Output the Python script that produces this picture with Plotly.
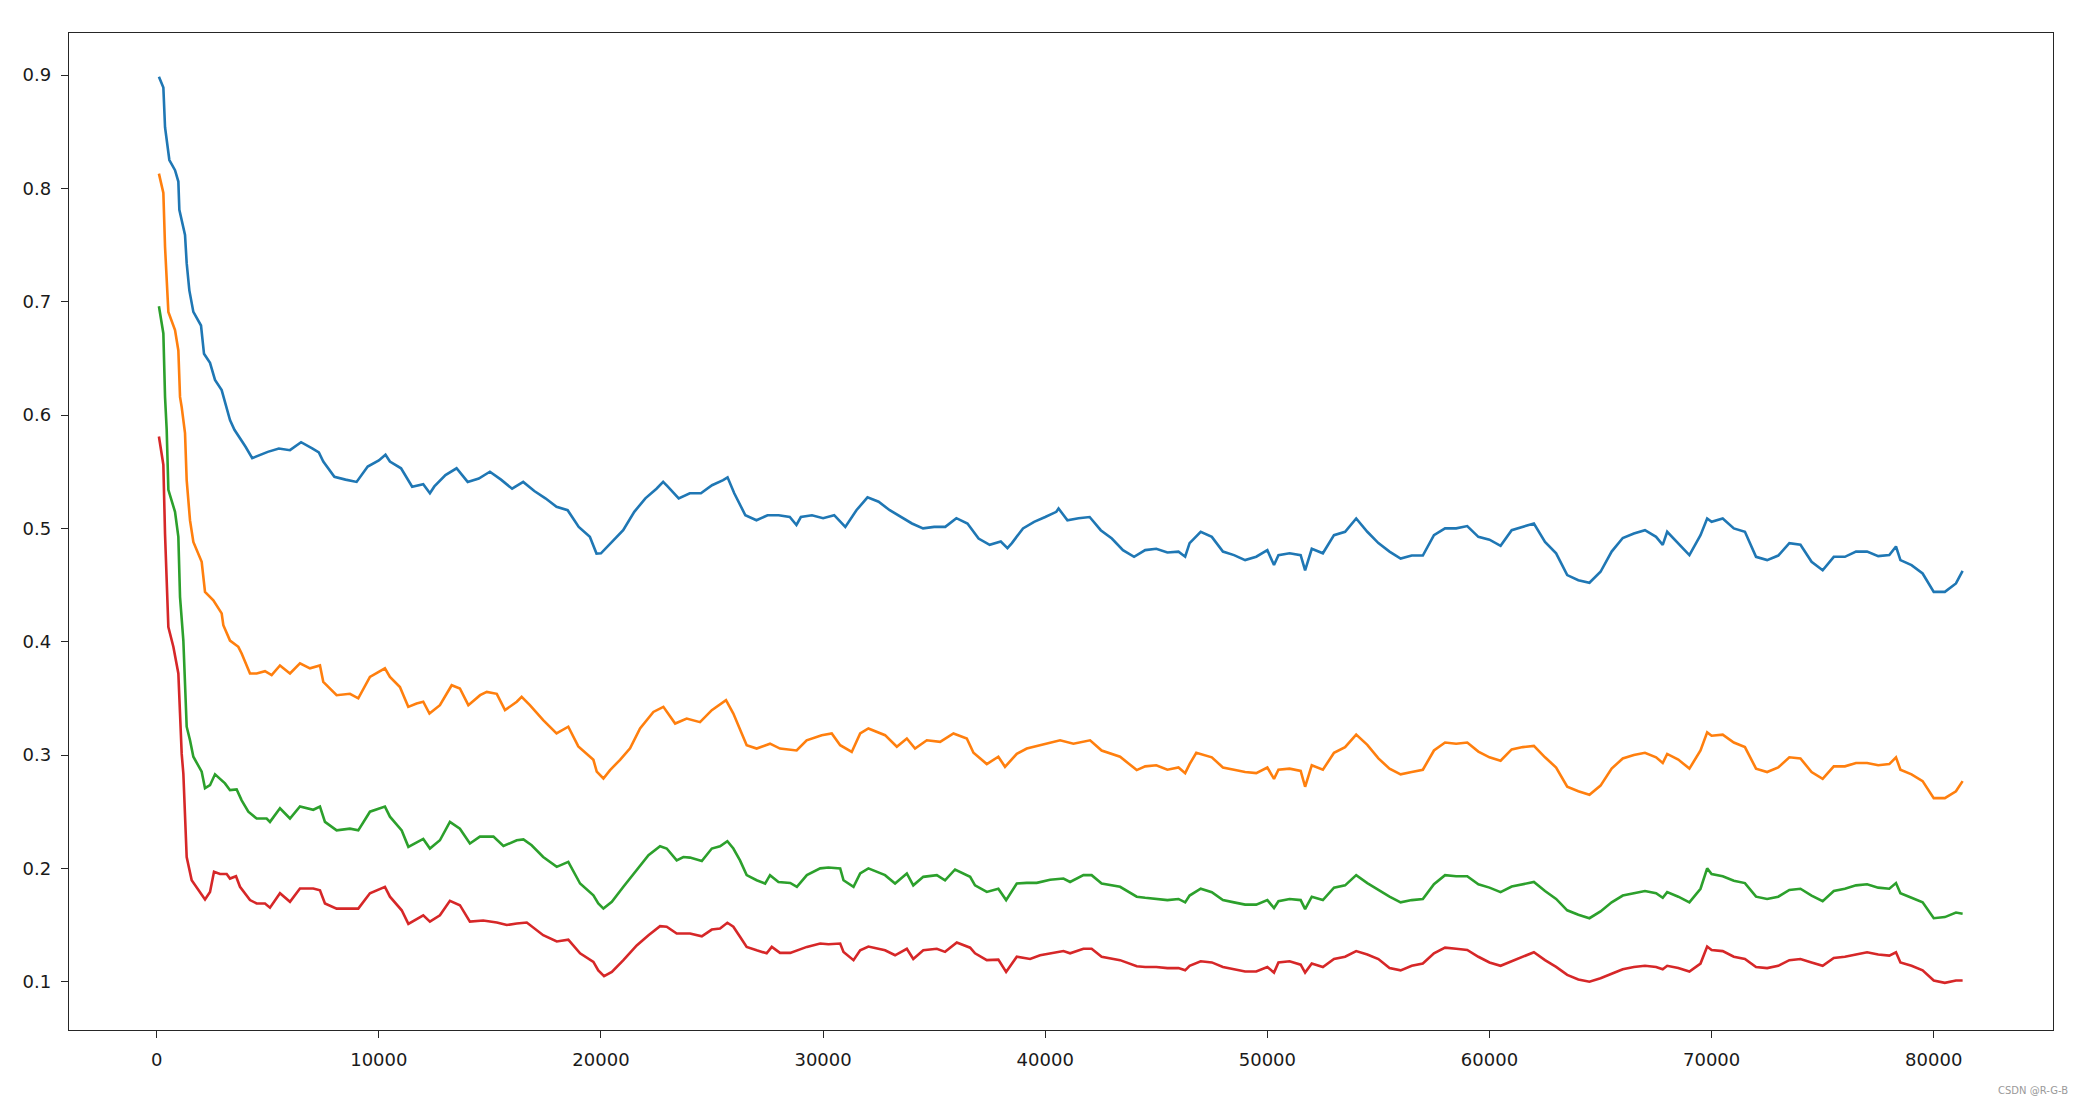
import plotly.graph_objects as go

blue_x = [100, 300, 375, 570, 825, 975, 1020, 1275, 1350, 1470, 1650, 1995, 2130, 2400, 2625, 2925, 3300, 3500, 4000, 4300,
          5000, 5500, 6000, 6500, 7000, 7300, 7500, 8000, 8500, 9000, 9500, 10000, 10300, 10500, 11000, 11500, 12000, 12300,
          12500, 13000, 13500, 14000, 14500, 15000, 15500, 16000, 16500, 17000, 17500, 18000, 18500, 19000, 19500, 19800,
          20000, 20300, 20500, 21000, 21500, 22000, 22500, 22800, 23000, 23500, 24000, 24500, 25000, 25500, 25700, 26000,
          26500, 27000, 27500, 28000, 28500, 28800, 29000, 29500, 30000, 30500, 31000, 31500, 32000, 32500, 33000, 33500,
          34000, 34500, 35000, 35500, 36000, 36500, 37000, 37500, 38000, 38300, 38500, 39000, 39500, 40000, 40500, 40600,
          41000, 41500, 42000, 42500, 43000, 43500, 44000, 44500, 45000, 45500, 46000, 46300, 46500, 47000, 47500, 48000,
          48500, 49000, 49500, 50000, 50300, 50500, 51000, 51500, 51700, 52000, 52500, 53000, 53500, 54000, 54500, 55000,
          55500, 56000, 56500, 57000, 57500, 58000, 58500, 59000, 59500, 60000, 60500, 61000, 61500, 62000, 62500, 63000,
          63500, 64000, 64500, 65000, 65500, 66000, 66500, 67000, 67500, 67800, 68000, 68500, 69000, 69500, 69800, 70000,
          70500, 71000, 71500, 72000, 72500, 73000, 73500, 74000, 74500, 75000, 75500, 76000, 76500, 77000, 77500, 78000,
          78300, 78500, 79000, 79500, 80000, 80500, 81000, 81300]
blue_y = [0.8985, 0.889, 0.854, 0.825, 0.816, 0.806, 0.781, 0.759, 0.734, 0.710, 0.691, 0.679, 0.654, 0.646, 0.631, 0.622,
          0.5955, 0.587, 0.572, 0.562,
          0.5675, 0.5705, 0.569, 0.576, 0.5705, 0.567, 0.559, 0.5455, 0.543, 0.541, 0.5545, 0.560, 0.565, 0.559, 0.553,
          0.5367, 0.539, 0.531,
          0.537, 0.547, 0.553, 0.541, 0.544, 0.550, 0.543, 0.535, 0.541, 0.533, 0.5265, 0.519, 0.516, 0.5013, 0.4925, 0.4778,
          0.478, 0.484, 0.488, 0.4984, 0.5146, 0.5265, 0.535, 0.541, 0.537, 0.5265, 0.531, 0.531, 0.5381, 0.5425, 0.545, 0.531,
          0.5116, 0.5072, 0.5116, 0.5116, 0.510, 0.503, 0.510, 0.5116, 0.509, 0.5116, 0.5013, 0.516, 0.5274, 0.5235, 0.516, 0.510,
          0.5043, 0.500, 0.5013, 0.5013, 0.509, 0.5043, 0.491, 0.4855, 0.4884, 0.4826, 0.487, 0.500, 0.5058, 0.510, 0.5146, 0.5175,
          0.5072, 0.509, 0.510, 0.4984, 0.491, 0.4808, 0.4749, 0.4808, 0.482, 0.4787, 0.4795, 0.475, 0.487, 0.497, 0.4925, 0.4795,
          0.4764, 0.472, 0.475, 0.4808, 0.4676, 0.4764, 0.478, 0.4764, 0.463, 0.482, 0.478, 0.494, 0.497, 0.5087, 0.497, 0.487,
          0.4795, 0.4734, 0.476, 0.476, 0.494, 0.500, 0.500, 0.502, 0.4925, 0.490, 0.4846, 0.4984, 0.5013, 0.5043, 0.488, 0.478,
          0.4588, 0.4543, 0.452, 0.4617, 0.4795, 0.4915, 0.4955, 0.4984, 0.4925, 0.4855, 0.497, 0.487, 0.4764, 0.494, 0.5087, 0.5058,
          0.5087, 0.500, 0.497, 0.4749, 0.472, 0.476, 0.487, 0.4855, 0.4705, 0.463, 0.4749, 0.4749, 0.4795, 0.4795, 0.4755, 0.4764,
          0.484, 0.472, 0.4676, 0.4602, 0.444, 0.444, 0.4514, 0.4625]

orange_x = [100, 300, 375, 525, 825, 975, 1050, 1125, 1275, 1350, 1500, 1650, 2025, 2175, 2550, 2925, 3000, 3300, 3675, 3825,
            4200, 4500, 4875, 5175, 5550, 6000, 6450, 6900, 7350, 7500, 8100, 8700, 9075, 9600, 10275, 10500, 10950, 11325,
            11700, 12000, 12280, 12750, 13280, 13650, 14030, 14560, 14860, 15310, 15680, 16210, 16430, 16800, 17400, 18000,
            18530, 18980, 19660, 19810, 20110, 20410, 20860, 21310, 21760, 22360, 22810, 23340, 23860, 24460, 24990, 25630,
            25960, 26260, 26560, 27010, 27610, 28060, 28810, 29260, 29940, 30390, 30770, 31290, 31670, 32040, 32790, 33320,
            33770, 34140, 34670, 35270, 35870, 36470, 36770, 37370, 37890, 38190, 38720, 39170, 39770, 40670, 41270, 42020,
            42540, 43370, 44120, 44500, 45000, 45500, 46000, 46300, 46500, 46800, 47500, 48000, 48500, 49000, 49500, 50000,
            50300, 50500, 51000, 51500, 51700, 52000, 52500, 53000, 53500, 54000, 54500, 55000, 55500, 56000, 56500, 57000,
            57500, 58000, 58500, 59000, 59500, 60000, 60500, 61000, 61500, 62000, 62500, 63000, 63500, 64000, 64500, 65000,
            65500, 66000, 66500, 67000, 67500, 67800, 68000, 68500, 69000, 69500, 69800, 70000, 70500, 71000, 71500, 72000,
            72500, 73000, 73500, 74000, 74500, 75000, 75500, 76000, 76500, 77000, 77500, 78000, 78300, 78500, 79000, 79500,
            80000, 80500, 81000, 81300]
orange_y = [0.813, 0.796, 0.7485, 0.691, 0.675, 0.657, 0.616, 0.607, 0.584, 0.5425, 0.507, 0.488, 0.4705, 0.444, 0.4366, 0.425,
            0.4146, 0.401, 0.3955, 0.3896,
            0.372, 0.372, 0.374, 0.3705, 0.379, 0.372, 0.381, 0.3765, 0.379, 0.3645, 0.3528, 0.354, 0.350, 0.369, 0.3765, 0.369,
            0.360, 0.3425,
            0.3455, 0.347, 0.3366, 0.344, 0.3616, 0.3587, 0.344, 0.3528, 0.3557, 0.354, 0.3396, 0.347, 0.3514, 0.344, 0.3307,
            0.319,
            0.325, 0.3076, 0.2958, 0.2853, 0.2793, 0.2867, 0.2958, 0.306, 0.3234, 0.338, 0.3425, 0.3278, 0.3322, 0.329, 0.3396,
            0.3484,
            0.3366, 0.3219, 0.3087, 0.3057, 0.310, 0.3057, 0.304, 0.313, 0.3175, 0.319, 0.3087, 0.3027, 0.319, 0.3234, 0.3175,
            0.3073,
            0.3146, 0.3057, 0.313, 0.3116, 0.319, 0.3146, 0.302, 0.292, 0.2985, 0.2896, 0.301, 0.3057, 0.3087, 0.313, 0.310,
            0.313,
            0.304, 0.2985, 0.2867, 0.290, 0.291, 0.287, 0.289, 0.284, 0.292, 0.302, 0.298, 0.289, 0.287, 0.285, 0.284, 0.289,
            0.279, 0.287, 0.288, 0.286, 0.272, 0.291, 0.287, 0.302, 0.307, 0.318, 0.309, 0.297, 0.288, 0.283, 0.285, 0.287,
            0.304, 0.311, 0.310, 0.311, 0.303, 0.298, 0.295, 0.305, 0.307, 0.308, 0.298, 0.289, 0.272, 0.268, 0.265, 0.273,
            0.288, 0.297, 0.300, 0.302, 0.298, 0.293, 0.301, 0.296, 0.288, 0.304, 0.320, 0.317, 0.318, 0.311, 0.307, 0.288,
            0.285, 0.289, 0.298, 0.297, 0.285, 0.279, 0.290, 0.290, 0.293, 0.293, 0.291, 0.292, 0.298, 0.287, 0.283, 0.277,
            0.262, 0.262, 0.268, 0.277]

green_x = [100, 300, 375, 450, 525, 825, 975, 1050, 1200, 1350, 1500, 1650, 2025, 2175, 2400, 2625, 3075, 3300, 3600, 3825,
           4125, 4500, 4950, 5100, 5550, 6000, 6450, 7050, 7350, 7575, 8100, 8700, 9075, 9600, 10275, 10500, 11030, 11330,
           12000, 12300, 12750, 13200, 13650, 14100, 14550, 15160, 15610, 16210, 16510, 16880, 17400, 18010, 18530, 19060,
           19660, 19880, 20110, 20490, 21010, 21610, 22140, 22660, 22960, 23410, 23710, 24010, 24540, 24990, 25360, 25690,
           25960, 26260, 26560, 27010, 27390, 27610, 27990, 28520, 28820, 29270, 29870, 30240, 30770, 30920, 31370, 31670,
           32040, 32790, 33240, 33770, 34060, 34510, 35120, 35490, 35940, 36620, 36840, 37370, 37890, 38240, 38720, 39170,
           39620, 40220, 40820, 41120, 41720, 42090, 42540, 43370, 44120, 44500, 45000, 45500, 46000, 46300, 46500, 47000,
           47500, 48000, 48500, 49000, 49500, 50000, 50300, 50500, 51000, 51500, 51700, 52000, 52500, 53000, 53500, 54000,
           54500, 55000, 55500, 56000, 56500, 57000, 57500, 58000, 58500, 59000, 59500, 60000, 60500, 61000, 61500, 62000,
           62500, 63000, 63500, 64000, 64500, 65000, 65500, 66000, 66500, 67000, 67500, 67800, 68000, 68500, 69000, 69500,
           69800, 70000, 70500, 71000, 71500, 72000, 72500, 73000, 73500, 74000, 74500, 75000, 75500, 76000, 76500, 77000,
           77500, 78000, 78300, 78500, 79000, 79500, 80000, 80500, 81000, 81300]
green_y = [0.696, 0.672, 0.616, 0.587, 0.534, 0.5146, 0.4925, 0.4396, 0.401, 0.325, 0.313, 0.2985, 0.2853, 0.2707, 0.2734,
           0.283, 0.275, 0.269, 0.2696, 0.260,
           0.250, 0.244, 0.244, 0.241, 0.253, 0.244, 0.2546, 0.2517, 0.2546, 0.241, 0.2335, 0.235, 0.2335, 0.250, 0.2545,
           0.2456, 0.2335, 0.219,
           0.226, 0.2175, 0.2248, 0.241, 0.235, 0.2219, 0.228, 0.228, 0.2197, 0.2248, 0.2255, 0.2204, 0.210, 0.2013, 0.2057,
           0.1866,
           0.1763, 0.169, 0.1645, 0.1705, 0.1837, 0.198, 0.2116, 0.2195, 0.2175, 0.207, 0.210, 0.2095, 0.2065, 0.2175, 0.2195,
           0.224,
           0.2175, 0.207, 0.194, 0.1895, 0.1866, 0.194, 0.188, 0.1871, 0.1837, 0.194, 0.200, 0.2007, 0.200, 0.1895, 0.1837,
           0.1955,
           0.200, 0.194, 0.1866, 0.1955, 0.185, 0.1925, 0.194, 0.1895, 0.199, 0.1925, 0.185, 0.1792, 0.182, 0.172, 0.1866,
           0.1872,
           0.1872, 0.190, 0.191, 0.188, 0.194, 0.194, 0.1866, 0.1837, 0.175, 0.174, 0.173, 0.172, 0.173, 0.170, 0.176, 0.182,
           0.179, 0.172, 0.170, 0.168, 0.168, 0.172, 0.165, 0.171, 0.173, 0.172, 0.164, 0.175, 0.172, 0.183, 0.185, 0.194,
           0.187, 0.181, 0.175, 0.170, 0.172, 0.173, 0.186, 0.194, 0.193, 0.193, 0.186, 0.183, 0.179, 0.184, 0.186, 0.188,
           0.180, 0.173, 0.163, 0.159, 0.156, 0.162, 0.170, 0.176, 0.178, 0.180, 0.178, 0.174, 0.179, 0.175, 0.170, 0.182,
           0.200, 0.195, 0.193, 0.189, 0.187, 0.175, 0.173, 0.175, 0.181, 0.182, 0.176, 0.171, 0.180, 0.182, 0.185, 0.186,
           0.183, 0.182, 0.187, 0.178, 0.174, 0.170, 0.156, 0.157, 0.161, 0.160]

red_x = [100, 300, 375, 525, 750, 975, 1050, 1125, 1200, 1350, 1575, 1875, 2175, 2400, 2580, 2850, 3150, 3300, 3570, 3750,
         4200, 4500, 4875, 5100, 5550, 6000, 6450, 7050, 7350, 7575, 8100, 8700, 9075, 9600, 10275, 10500, 11030, 11330,
         12000, 12300, 12750, 13200, 13650, 14100, 14700, 15310, 15760, 16210, 16660, 17400, 18010, 18530, 19060, 19660,
         19880, 20140, 20490, 21010, 21610, 22140, 22660, 22960, 23410, 24010, 24540, 24990, 25360, 25690, 25960, 26260,
         26560, 27010, 27460, 27690, 28060, 28520, 28820, 29270, 29870, 30240, 30770, 30920, 31370, 31670, 32040, 32790,
         33240, 33770, 34060, 34510, 35120, 35490, 36020, 36620, 36840, 37370, 37890, 38240, 38720, 39320, 39770, 40370,
         40820, 41120, 41720, 42090, 42540, 43370, 44120, 44500, 45000, 45500, 46000, 46300, 46500, 47000, 47500, 48000,
         48500, 49000, 49500, 50000, 50300, 50500, 51000, 51500, 51700, 52000, 52500, 53000, 53500, 54000, 54500, 55000,
         55500, 56000, 56500, 57000, 57500, 58000, 58500, 59000, 59500, 60000, 60500, 61000, 61500, 62000, 62500, 63000,
         63500, 64000, 64500, 65000, 65500, 66000, 66500, 67000, 67500, 67800, 68000, 68500, 69000, 69500, 69800, 70000,
         70500, 71000, 71500, 72000, 72500, 73000, 73500, 74000, 74500, 75000, 75500, 76000, 76500, 77000, 77500, 78000,
         78300, 78500, 79000, 79500, 80000, 80500, 81000, 81300]
red_y = [0.581, 0.556, 0.495, 0.413, 0.3955, 0.372, 0.3366, 0.301, 0.2837, 0.210, 0.1895, 0.1807, 0.1725, 0.1792, 0.197,
         0.195, 0.195, 0.191, 0.193, 0.1837,
         0.172, 0.169, 0.169, 0.1653, 0.178, 0.1705, 0.1822, 0.1822, 0.1807, 0.169, 0.1645, 0.1645, 0.1645, 0.178, 0.1837,
         0.175, 0.163, 0.151,
         0.1586, 0.153, 0.1586, 0.1714, 0.1675, 0.153, 0.154, 0.1522, 0.150, 0.1513, 0.1522, 0.141, 0.1355, 0.137, 0.125,
         0.1175,
         0.110, 0.1048, 0.1086, 0.119, 0.132, 0.141, 0.149, 0.1485, 0.1425, 0.1425, 0.140, 0.146, 0.147, 0.152, 0.1485,
         0.1396,
         0.1307, 0.1277, 0.125, 0.1307, 0.1254, 0.1254, 0.1277, 0.1307, 0.1337, 0.133, 0.1337, 0.1263, 0.119, 0.1277, 0.131,
         0.1277,
         0.1233, 0.129, 0.120, 0.1277, 0.129, 0.1263, 0.1345, 0.130, 0.125, 0.119, 0.1195, 0.1086, 0.122, 0.120, 0.1233,
         0.1254,
         0.127, 0.125, 0.129, 0.129, 0.122, 0.119, 0.1136, 0.113, 0.113, 0.112, 0.112, 0.110, 0.114, 0.118, 0.117, 0.113,
         0.111, 0.109, 0.109, 0.113, 0.108, 0.117, 0.118, 0.115, 0.108, 0.116, 0.113, 0.120, 0.122, 0.127, 0.124, 0.120,
         0.112, 0.110, 0.114, 0.116, 0.125, 0.130, 0.129, 0.128, 0.122, 0.117, 0.114, 0.118, 0.122, 0.126, 0.119, 0.113,
         0.106, 0.102, 0.100, 0.103, 0.107, 0.111, 0.113, 0.114, 0.113, 0.111, 0.114, 0.112, 0.109, 0.116, 0.131, 0.128,
         0.127, 0.122, 0.120, 0.113, 0.112, 0.114, 0.119, 0.120, 0.117, 0.114, 0.121, 0.122, 0.124, 0.126, 0.124, 0.123,
         0.126, 0.117, 0.114, 0.110, 0.101, 0.099, 0.101, 0.101]

series = [
    (blue_x, blue_y, "#1f77b4"),
    (orange_x, orange_y, "#ff7f0e"),
    (green_x, green_y, "#2ca02c"),
    (red_x, red_y, "#d62728"),
]

x_ticks = [0, 10000, 20000, 30000, 40000, 50000, 60000, 70000, 80000]
y_ticks = [0.1, 0.2, 0.3, 0.4, 0.5, 0.6, 0.7, 0.8, 0.9]

fig = go.Figure()
for xs, ys, col in series:
    fig.add_trace(go.Scatter(x=xs, y=ys, mode="lines",
                             line=dict(color=col, width=2.6), showlegend=False,
                             hoverinfo="skip"))

axis_common = dict(showgrid=False, zeroline=False, showline=True, mirror=True,
                   linecolor="#262626", linewidth=1.4, ticks="outside", ticklen=7,
                   tickwidth=1.3, tickcolor="#262626",
                   tickfont=dict(family="DejaVu Sans", size=18, color="#1a1a1a"))

fig.update_xaxes(range=[-3948, 85369], tickvals=x_ticks,
                 ticktext=[str(v) for v in x_ticks], ticklabelstandoff=6, **axis_common)
fig.update_yaxes(range=[0.05737, 0.9371], tickvals=y_ticks,
                 ticktext=[f"{v:.1f}" for v in y_ticks], ticklabelstandoff=6, **axis_common)

fig.add_annotation(text="CSDN @R-G-B", xref="paper", yref="paper",
                   x=1.0086, y=-0.0602, xanchor="right", yanchor="middle",
                   showarrow=False, font=dict(family="DejaVu Sans", size=10, color="#9a9a9a"))

fig.update_layout(width=2085, height=1104, margin=dict(l=69, r=32, t=33, b=74),
                  paper_bgcolor="white", plot_bgcolor="white")

fig.write_html("out.html")
